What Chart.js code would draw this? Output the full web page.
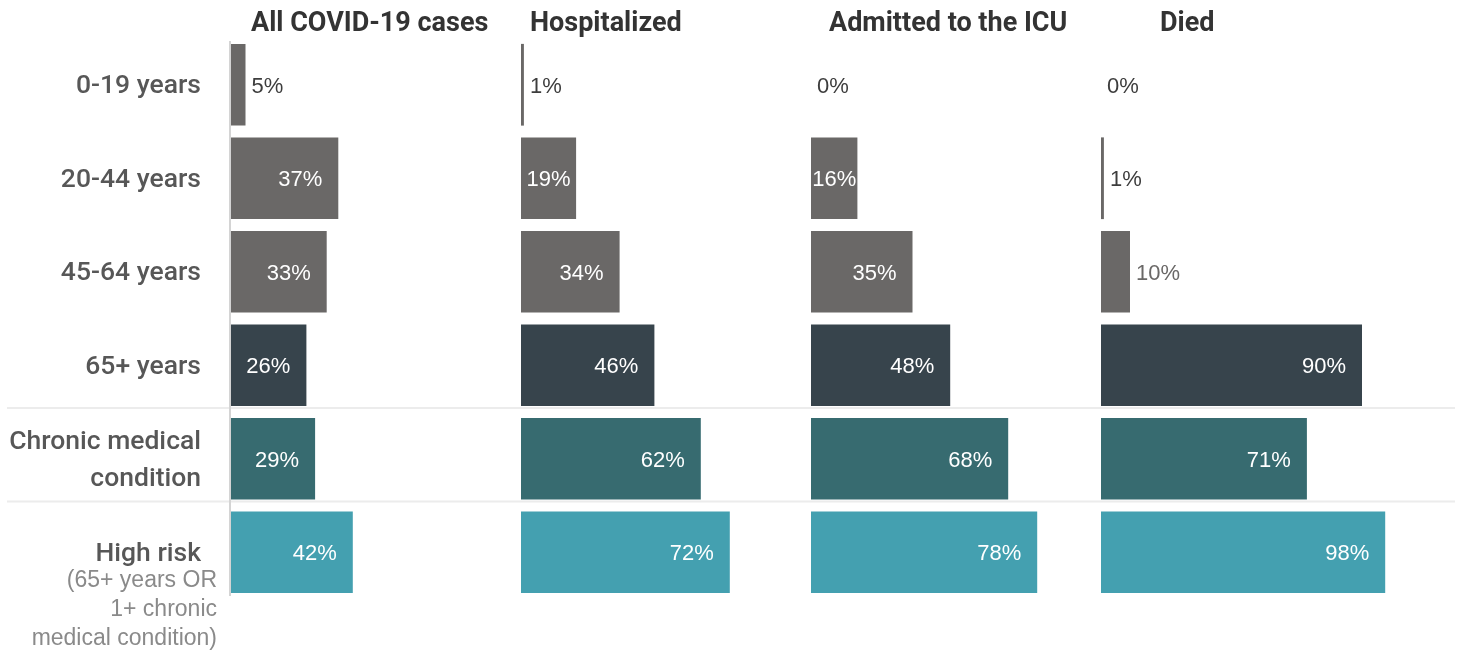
<!DOCTYPE html>
<html>
<head>
<meta charset="utf-8">
<script src="https://cdn.jsdelivr.net/npm/chart.js@4"></script>
<style>
  html, body { margin: 0; padding: 0; background: #ffffff; }
  #wrap { width: 1461px; height: 652px; position: relative; }
</style>
</head>
<body>
<div id="wrap"><canvas id="c" width="1461" height="652"></canvas></div>
<script>
// ---- data ----
const categories = ['0-19 years', '20-44 years', '45-64 years', '65+ years', 'Chronic medical condition', 'High risk'];
const panelTitles = ['All COVID-19 cases', 'Hospitalized', 'Admitted to the ICU', 'Died'];
const allCases     = [5, 37, 33, 26, 29, 42];
const hospitalized = [1, 19, 34, 46, 62, 72];
const icu          = [0, 16, 35, 48, 68, 78];
const died         = [0, 1, 10, 90, 71, 98];
const highRiskNote = ['(65+ years OR', '1+ chronic', 'medical condition)'];

// ---- styles ----
const rowColors = ['#6a6867', '#6a6867', '#6a6867', '#37444c', '#376b70', '#44a0b0'];
const outsideLabelColors = ['#3d3d3d', '#3d3d3d', '#6a6867', '#3d3d3d', '#3d3d3d', '#3d3d3d'];
const titleOffsets = [20, 9, 18, 59];
const CAT = "Roboto, 'DejaVu Sans Condensed', sans-serif";
const REG = "'Liberation Sans', Arial, sans-serif";

const series = [allCases, hospitalized, icu, died];
const nPanels = series.length;

const datasets = series.map((vals, k) => ({
  label: panelTitles[k],
  data: vals,
  xAxisID: 'x' + k,
  backgroundColor: rowColors,
  borderWidth: 0,
  grouped: false,
  barPercentage: 0.874,
  categoryPercentage: 1.0
}));

const scales = {
  y: { type: 'category', display: false, grid: { display: false } }
};
for (let k = 0; k < nPanels; k++) {
  scales['x' + k] = {
    type: 'linear', axis: 'x', position: 'bottom', display: false,
    min: -100 * k, max: 100 * (nPanels - k)
  };
}

const decor = {
  id: 'decor',
  beforeDatasetsDraw(chart) {
    const ctx = chart.ctx, ca = chart.chartArea, y = chart.scales.y;
    ctx.save();
    ctx.strokeStyle = '#ececec';
    ctx.lineWidth = 2;
    [3, 4].forEach(i => {
      const yy = (y.getPixelForValue(i) + y.getPixelForValue(i + 1)) / 2 - 4;
      ctx.beginPath(); ctx.moveTo(7, yy); ctx.lineTo(1455, yy); ctx.stroke();
    });
    const x0 = chart.scales.x0.getPixelForValue(0) - 1;
    ctx.strokeStyle = '#d4d4d4';
    ctx.lineWidth = 2;
    ctx.beginPath(); ctx.moveTo(x0, ca.top + 3); ctx.lineTo(x0, ca.bottom - 3); ctx.stroke();
    ctx.restore();
  },
  afterDatasetsDraw(chart) {
    const ctx = chart.ctx, y = chart.scales.y;
    ctx.save();
    // panel titles
    ctx.font = "bold 27px " + CAT;
    ctx.fillStyle = '#333333';
    ctx.textBaseline = 'middle';
    ctx.textAlign = 'left';
    panelTitles.forEach((t, k) => {
      const px = chart.scales['x' + k].getPixelForValue(0);
      ctx.fillText(t, px + titleOffsets[k], 24);
    });
    // category labels
    ctx.textAlign = 'right';
    ctx.fillStyle = '#575757';
    ctx.font = "500 26.5px " + CAT;
    const lx = 201;
    categories.forEach((c, i) => {
      const cy = y.getPixelForValue(i) + 2;
      if (i === 4) {
        ctx.fillText('Chronic medical', lx, cy - 18);
        ctx.fillText('condition', lx, cy + 19);
      } else {
        ctx.fillText(c, lx, cy);
      }
    });
    // high risk note
    ctx.font = "23px " + REG;
    ctx.fillStyle = '#8a8a8a';
    const hy = y.getPixelForValue(5);
    highRiskNote.forEach((t, j) => ctx.fillText(t, 217, hy + 28 + j * 29));

    // value labels
    ctx.font = "22px " + REG;
    ctx.textBaseline = 'middle';
    chart.data.datasets.forEach((ds, k) => {
      const meta = chart.getDatasetMeta(k);
      meta.data.forEach((bar, i) => {
        const v = ds.data[i];
        const txt = v + '%';
        const w = ctx.measureText(txt).width;
        const start = bar.base, end = bar.x;
        const bw = end - start;
        ctx.textAlign = 'left';
        if (bw >= w) {
          ctx.fillStyle = '#ffffff';
          let left = end - 16 - w;
          if (left < start + 5) left = start + (bw - w) / 2;
          ctx.fillText(txt, left, bar.y + 2);
        } else {
          ctx.fillStyle = outsideLabelColors[i];
          ctx.fillText(txt, end + 6, bar.y + 2);
        }
      });
    });
    ctx.restore();
  }
};

new Chart(document.getElementById('c'), {
  type: 'bar',
  data: { labels: categories, datasets },
  options: {
    indexAxis: 'y',
    responsive: false,
    animation: false,
    layout: { padding: { left: 231, right: 70, top: 38, bottom: 53 } },
    scales,
    plugins: { legend: { display: false }, tooltip: { enabled: false } }
  },
  plugins: [decor]
});
</script>
</body>
</html>
